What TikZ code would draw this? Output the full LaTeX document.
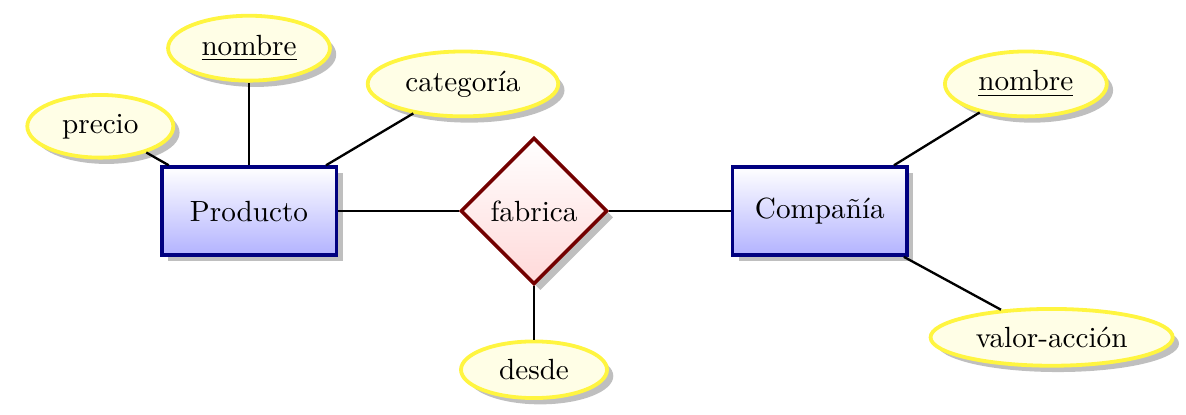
\documentclass[tikz,border=0pt]{standalone}
\usetikzlibrary{shapes.geometric,shadows}
\begin{document}
\begin{tikzpicture}[
    entity/.style={rectangle,draw=blue!50!black,very thick,
        top color=white,bottom color=blue!30,drop shadow,
        minimum width=2.1cm,minimum height=1.06cm},
    relation/.style={diamond,aspect=1,draw=red!45!black,very thick,
        top color=white,bottom color=red!15,drop shadow},
    attribute/.style={ellipse,draw=yellow!75,line width=1.3pt,
        fill=yellow!10,drop shadow,minimum width=50pt},
    link/.style={draw,thick}
]
    \useasboundingbox (-6.427,-2.443) rectangle (7.847,2.54);
    \node[relation] (fabrica) at (0,0) {fabrica};
    \node[entity] (producto) at (-3.43,0) {Producto};
    \node[entity] (compania) at (3.44,0) {Compañía};

    \node[attribute] (precio) at (-5.22,1.02) {precio};
    \node[attribute] (nombreP) at (-3.43,1.96) {\underline{nombre}};
    \node[attribute] (categoria) at (-0.855,1.53) {categoría};
    \node[attribute] (desde) at (0,-1.91) {desde};
    \node[attribute] (nombreC) at (5.92,1.53) {\underline{nombre}};
    \node[attribute] (valor) at (6.23,-1.52) {valor-acción};

    \draw[link] (producto)--(fabrica);
    \draw[link] (fabrica)--(compania);
    \draw[link] (fabrica)--(desde);
    \draw[link] (producto)--(precio);
    \draw[link] (producto)--(nombreP);
    \draw[link] (producto)--(categoria);
    \draw[link] (compania)--(nombreC);
    \draw[link] (compania)--(valor);
\end{tikzpicture}
\end{document}
